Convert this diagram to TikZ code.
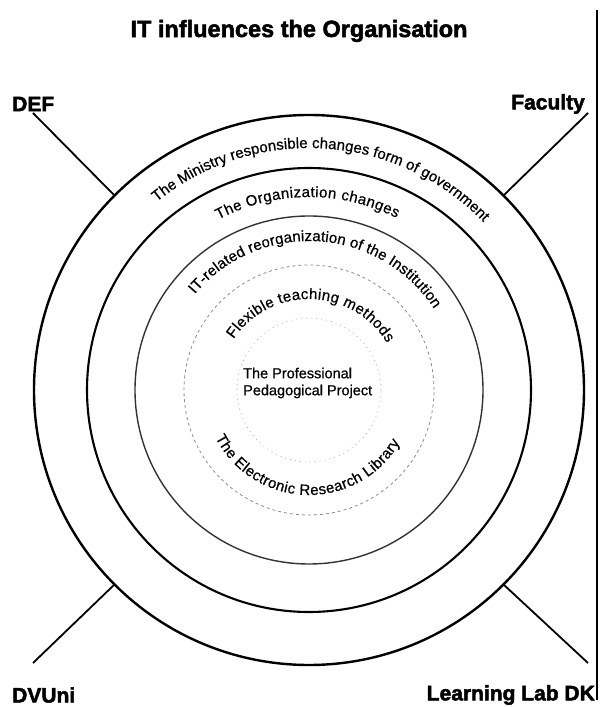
\documentclass[tikz,border=0pt]{standalone}
\usepackage{fontspec}
\setmainfont{Liberation Sans}
\newfontfamily\heavy[FakeBold=2.2]{Liberation Sans Bold}
\newfontfamily\arcfam[FakeBold=0.6]{Liberation Sans}
\usetikzlibrary{decorations.text}
\tikzset{
  ringA/.style={line width=2.4pt, black},
  ringB/.style={line width=2.1pt, black},
  ringC/.style={line width=1.4pt, black!80},
  ringD/.style={line width=0.8pt, black!45, dash pattern=on 3pt off 3pt},
  ringE/.style={line width=0.6pt, black!35, dash pattern=on 1pt off 4pt},
  spoke/.style={line width=1.8pt, black},
  corner/.style={font=\heavy\fontsize{21}{24}\selectfont, inner sep=0pt},
  arctext/.style={decorate, decoration={text along path, text align={fit to path}, text={#1}}},
}
\newcommand{\arcfont}{\arcfam\fontsize{15}{17}\selectfont}
\begin{document}
\begin{tikzpicture}[x=1pt,y=1pt]
\useasboundingbox (0,0) rectangle (600,707);
\coordinate (C) at (309,317);

% title
\node[font=\heavy\fontsize{23.5}{28}\selectfont, inner sep=0pt] (title) at (299,676) {IT influences the Organisation};

% rings
\draw[ringA] (C) circle[radius=275];
\draw[ringB] (C) circle[radius=222];
\draw[ringC] (C) circle[radius=174];
\draw[ringD] (C) circle[radius=125];
\draw[ringE] (C) circle[radius=72];

% corner labels
\node[corner, anchor=west] (def) at (12,603) {DEF};
\node[corner, anchor=east] (fac) at (585,603) {Faculty};
\node[corner, anchor=west] (dvu) at (12,12) {DVUni};
\node[corner, anchor=east] (lld) at (595,12) {Learning Lab DK};

% spoke ends
\coordinate (eTL) at (33,594);
\coordinate (eTR) at (588,594);
\coordinate (eBL) at (33,44);
\coordinate (eBR) at (588,44);
\coordinate (cTL) at ([shift={(135:275)}]C);
\coordinate (cTR) at ([shift={(45:275)}]C);
\coordinate (cBL) at ([shift={(225:275)}]C);
\coordinate (cBR) at ([shift={(315:275)}]C);
\draw[spoke] (eTL) -- (cTL);
\draw[spoke] (eTR) -- (cTR);
\draw[spoke] (eBL) -- (cBL);
\draw[spoke] (eBR) -- (cBR);

% right border
\draw[line width=1.4pt] (597,697) -- (597,7);

% arc texts
\path[arctext={|\arcfont|The Ministry responsible changes form of government}]
  ([shift={(129:242)}]C) arc[start angle=129, end angle=44, radius=242];
\path[arctext={|\arcfont|The Organization changes}]
  ([shift={(118:193)}]C) arc[start angle=118, end angle=63, radius=193];
\path[arctext={|\arcfont|IT-related reorganization of the Institution}]
  ([shift={(140:149)}]C) arc[start angle=140, end angle=33, radius=149];
\path[arctext={|\arcfont|Flexible teaching methods}]
  ([shift={(146:91)}]C) arc[start angle=146, end angle=31, radius=91];
\path[arctext={|\arcfont|The Electronic Research Library}]
  ([shift={(207:105)}]C) arc[start angle=207, end angle=330, radius=105];

% centre
\node[font=\arcfam\fontsize{14.5}{17}\selectfont, align=left, anchor=west, inner sep=0pt] (core) at (243,324) {The Professional\\Pedagogical Project};
\end{tikzpicture}
\end{document}
